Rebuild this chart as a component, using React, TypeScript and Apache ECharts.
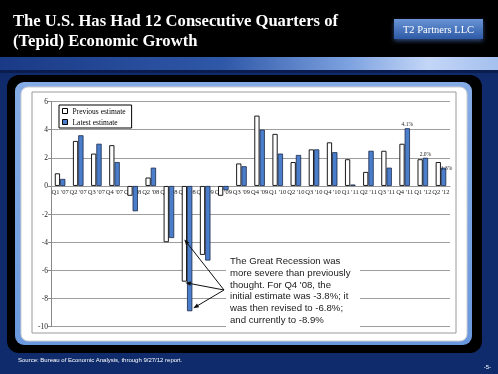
import React, { useEffect, useRef } from "react";
import * as echarts from "echarts";

const categories = [
  "Q1 '07", "Q2 '07", "Q3 '07", "Q4 '07",
  "Q1 '08", "Q2 '08", "Q3 '08", "Q4 '08",
  "Q1 '09", "Q2 '09", "Q3 '09", "Q4 '09",
  "Q1 '10", "Q2 '10", "Q3 '10", "Q4 '10",
  "Q1 '11", "Q2 '11", "Q3 '11", "Q4 '11",
  "Q1 '12", "Q2 '12",
];
const previousEstimate = [
  0.9, 3.2, 2.3, 2.9,
  -0.7, 0.6, -4.0, -6.8,
  -4.9, -0.7, 1.6, 5.0,
  3.7, 1.7, 2.6, 3.1,
  1.9, 1.0, 2.5, 3.0,
  1.9, 1.7,
];
const latestEstimate = [
  0.5, 3.6, 3.0, 1.7,
  -1.8, 1.3, -3.7, -8.9,
  -5.3, -0.3, 1.4, 4.0,
  2.3, 2.2, 2.6, 2.4,
  0.1, 2.5, 1.3, 4.1,
  2.0, 1.3,
];
const seriesNames = ["Previous estimate", "Latest estimate"];
const labelledCategories = ["Q4 '11", "Q1 '12", "Q2 '12"];
const labelledTexts = ["4.1%", "2.0%", "1.3%"];
const yMin = -10;
const yMax = 6;
const yStep = 2;

const annotationCategory = "Q4 '08";
const annotationValues = [-3.8, -6.8, -8.9];
const annotationLines = [
  "The Great Recession was",
  "more severe than previously",
  "thought. For Q4 '08, the",
  "initial estimate was -3.8%; it",
  "was then revised to -6.8%;",
  "and currently to -8.9%",
];
const titleLines = [
  "The U.S. Has Had 12 Consecutive Quarters of",
  "(Tepid) Economic Growth",
];
const brandText = "T2 Partners LLC";
const sourceText = "Source: Bureau of Economic Analysis, through 9/27/12 report.";
const pageText = "-5-";

const SERIF = '"Liberation Serif", "Times New Roman", serif';
const SANS = '"Liberation Sans", Arial, sans-serif';
const BLUE = "#4a7ecb";

const GRID_TOP = 101.5;
const GRID_BOTTOM = 47.3;
const CHART_H = 374;

function buildLatestData() {
  return latestEstimate.map((v, i) => {
    const k = labelledCategories.indexOf(categories[i]);
    if (k < 0) return v;
    const isLast = k === labelledCategories.length - 1;
    return {
      value: v,
      label: {
        show: true,
        formatter: labelledTexts[k],
        position: "top",
        distance: 1,
        fontSize: 5.5,
        fontFamily: SERIF,
        color: "#222",
        offset: isLast ? [3, 4] : [0, 0],
      },
    };
  });
}

function backgroundGraphics(): any[] {
  return [
    { type: "rect", z: -20, silent: true, shape: { x: 0, y: 0, width: 498, height: 374 }, style: { fill: "#0f2b6b" } },
    { type: "rect", z: -19, silent: true, shape: { x: 0, y: 0, width: 498, height: 57 }, style: { fill: "#000" } },
    {
      type: "rect", z: -19, silent: true,
      shape: { x: 0, y: 57, width: 498, height: 13 },
      style: {
        fill: {
          type: "linear", x: 0, y: 0, x2: 1, y2: 0,
          colorStops: [
            { offset: 0, color: "#1a3a86" },
            { offset: 0.45, color: "#2f58a8" },
            { offset: 0.7, color: "#7da2e0" },
            { offset: 0.86, color: "#c3d6f7" },
            { offset: 1, color: "#a4c0ee" },
          ],
        },
      },
    },
    { type: "rect", z: -19, silent: true, shape: { x: 0, y: 70, width: 498, height: 3 }, style: { fill: "#0a1d4e" } },
    { type: "rect", z: -18, silent: true, shape: { x: 7, y: 75, width: 475, height: 278, r: 12 }, style: { fill: "#000" } },
    {
      type: "rect", z: -17, silent: true,
      shape: { x: 15, y: 82, width: 457, height: 263, r: 9 },
      style: {
        fill: {
          type: "linear", x: 0, y: 0, x2: 0, y2: 1,
          colorStops: [
            { offset: 0, color: "#86ace6" },
            { offset: 1, color: "#6a98de" },
          ],
        },
      },
    },
    { type: "rect", z: -16, silent: true, shape: { x: 21, y: 87, width: 446, height: 254, r: 7 }, style: { fill: "#fff", stroke: "#cfcfcf", lineWidth: 1 } },
    { type: "rect", z: -15, silent: true, shape: { x: 32, y: 92, width: 424, height: 241 }, style: { fill: "#fff", stroke: "#9a9a9a", lineWidth: 1 } },
    {
      type: "text", z: 5, silent: true, x: 13, y: 10,
      style: {
        text: titleLines.join("\n"), fill: "#fff", fontSize: 16.6, fontWeight: "bold",
        fontFamily: SERIF, lineHeight: 20, verticalAlign: "top",
      },
    },
    {
      type: "rect", z: 4, silent: true,
      shape: { x: 394, y: 19, width: 89, height: 20 },
      style: {
        fill: {
          type: "linear", x: 0, y: 0, x2: 0, y2: 1,
          colorStops: [
            { offset: 0, color: "#6a94d6" },
            { offset: 1, color: "#2d5aa6" },
          ],
        },
        shadowColor: "rgba(80,120,200,0.6)", shadowBlur: 4, shadowOffsetY: 2,
      },
    },
    {
      type: "text", z: 5, silent: true, x: 438.5, y: 29,
      style: {
        text: brandText, fill: "#fff", fontSize: 10.5, fontFamily: SERIF,
        align: "center", verticalAlign: "middle",
      },
    },
    {
      type: "text", z: 5, silent: true, x: 18, y: 359.5,
      style: { text: sourceText, fill: "#fff", fontSize: 6, fontFamily: SANS, verticalAlign: "middle" },
    },
    {
      type: "text", z: 5, silent: true, x: 491, y: 367,
      style: { text: pageText, fill: "#fff", fontSize: 6, fontFamily: SANS, align: "right", verticalAlign: "middle" },
    },
  ];
}

function arrowGraphics(chart: any): any[] {
  const out: any[] = [];
  const origin = [224, 290];
  const offsets = [[-2.7, 0], [-1.7, 1], [6.3, -3]];
  annotationValues.forEach((v, i) => {
    const p = chart.convertToPixel({ gridIndex: 0 }, [annotationCategory, v]);
    const tip = [p[0] + offsets[i][0], p[1] + offsets[i][1]];
    const dx = tip[0] - origin[0];
    const dy = tip[1] - origin[1];
    const len = Math.sqrt(dx * dx + dy * dy);
    const ux = dx / len;
    const uy = dy / len;
    const nx = -uy;
    const ny = ux;
    const L = 5.5;
    const W = 2.2;
    const base = [tip[0] - L * ux, tip[1] - L * uy];
    out.push({
      type: "line", z: 20, silent: true,
      shape: { x1: origin[0], y1: origin[1], x2: base[0] + 1 * ux, y2: base[1] + 1 * uy },
      style: { stroke: "#111", lineWidth: 1 },
    });
    out.push({
      type: "polygon", z: 20, silent: true,
      shape: {
        points: [
          tip,
          [base[0] + W * nx, base[1] + W * ny],
          [base[0] - W * nx, base[1] - W * ny],
        ],
      },
      style: { fill: "#111" },
    });
  });
  out.push({
    type: "rect", z: 10, silent: true,
    shape: { x: 226, y: 246, width: 134, height: 84 },
    style: { fill: "#fff" },
  });
  out.push({
    type: "text", z: 11, silent: true, x: 230, y: 255,
    style: {
      text: annotationLines.join("\n"), fill: "#1a1a1a", fontSize: 9.6,
      fontFamily: SANS, lineHeight: 11.7, verticalAlign: "top",
    },
  });
  return out;
}

export default function App() {
  const ref = useRef<HTMLDivElement>(null);
  useEffect(() => {
    if (!ref.current) return;
    const chart = echarts.init(ref.current, null, { renderer: "svg" });
    const plotH = CHART_H - GRID_TOP - GRID_BOTTOM;
    const zeroOffset = -(plotH * (0 - yMin)) / (yMax - yMin);
    const option: any = {
      animation: false,
      backgroundColor: "transparent",
      grid: { left: 51, right: 48, top: GRID_TOP, bottom: GRID_BOTTOM, containLabel: false },
      legend: {
        show: true,
        left: 59,
        top: 105,
        orient: "vertical",
        backgroundColor: "#fff",
        borderColor: "#000",
        borderWidth: 1,
        padding: [2, 6, 2, 3],
        itemWidth: 5,
        itemHeight: 5,
        itemGap: 3,
        icon: "rect",
        textStyle: { fontSize: 7.5, fontFamily: SERIF, color: "#000", lineHeight: 8 },
        data: [
          { name: seriesNames[0], itemStyle: { color: "#fff", borderColor: "#000", borderWidth: 1 } },
          { name: seriesNames[1], itemStyle: { color: BLUE, borderColor: "#000", borderWidth: 1 } },
        ],
      },
      xAxis: {
        type: "category",
        data: categories,
        position: "bottom",
        offset: zeroOffset,
        axisLine: { show: true, onZero: false, lineStyle: { color: "#9a9a9a", width: 1 } },
        axisTick: { show: false },
        axisLabel: { interval: 0, fontSize: 6.5, fontFamily: SERIF, color: "#222", margin: 2 },
        splitLine: { show: false },
      },
      yAxis: {
        type: "value",
        min: yMin,
        max: yMax,
        interval: yStep,
        axisLine: { show: true, lineStyle: { color: "#8a8a8a", width: 1 } },
        axisTick: { show: true, length: 3, lineStyle: { color: "#8a8a8a" } },
        axisLabel: { fontSize: 7.5, fontFamily: SERIF, color: "#222", margin: 3 },
        splitLine: { show: true, lineStyle: { color: "#9e9e9e", width: 1 } },
      },
      series: [
        {
          name: seriesNames[0],
          type: "bar",
          data: previousEstimate,
          barWidth: 5.3,
          barGap: "0%",
          itemStyle: { color: "#fff", borderColor: "#1a1a1a", borderWidth: 1 },
        },
        {
          name: seriesNames[1],
          type: "bar",
          data: buildLatestData(),
          barWidth: 5.3,
          barGap: "0%",
          itemStyle: { color: BLUE, borderColor: "#1a2a4a", borderWidth: 0.8 },
        },
      ],
    };
    chart.setOption(option);
    chart.setOption({ graphic: [...backgroundGraphics(), ...arrowGraphics(chart)] });
    return () => chart.dispose();
  }, []);
  return (
    <div
      ref={ref}
      style={{ position: "fixed", left: 0, top: 0, width: 498, height: 374 }}
    />
  );
}
